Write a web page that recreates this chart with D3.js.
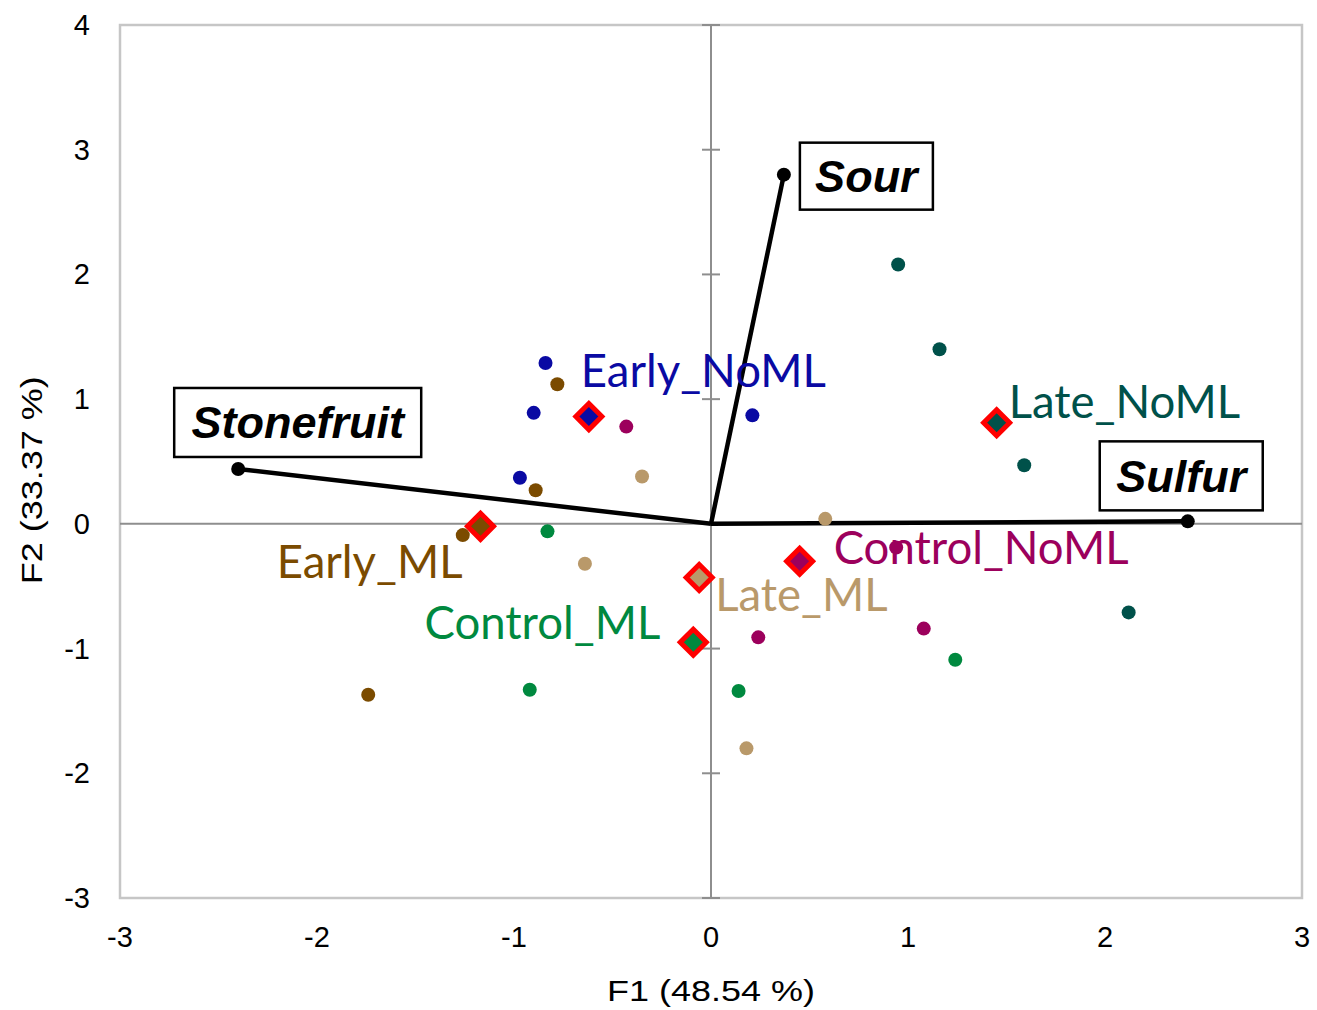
<!DOCTYPE html>
<html>
<head>
<meta charset="utf-8">
<script src="https://cdn.jsdelivr.net/npm/d3@7"></script>
<style>
  body { margin: 0; background: #fff; }
  svg { display: block; }
</style>
</head>
<body>
<div id="viz"></div>
<script>
// observations (F1, F2) per group
var groups = ["Early_NoML", "Early_ML", "Control_NoML", "Late_ML", "Control_ML", "Late_NoML"];
var groupColors = ["#0a0aa3", "#7b4b00", "#9c005c", "#b9996a", "#00893f", "#00514a"];
var obsGroup = [
  "Early_NoML", "Early_NoML", "Early_NoML", "Early_NoML",
  "Early_ML", "Early_ML", "Early_ML", "Early_ML",
  "Control_NoML", "Control_NoML", "Control_NoML", "Control_NoML",
  "Late_ML", "Late_ML", "Late_ML", "Late_ML",
  "Control_ML", "Control_ML", "Control_ML", "Control_ML",
  "Late_NoML", "Late_NoML", "Late_NoML", "Late_NoML"
];
var obsF1 = [-0.84, -0.90, -0.97, 0.21,  -0.78, -0.89, -1.26, -1.74,  -0.43, 0.94, 1.08, 0.24,
             -0.35, -0.64, 0.58, 0.18,  -0.83, -0.92, 0.14, 1.24,  0.95, 1.16, 1.59, 2.12];
var obsF2 = [1.29, 0.89, 0.37, 0.87,  1.12, 0.27, -0.09, -1.37,  0.78, -0.19, -0.84, -0.91,
             0.38, -0.32, 0.04, -1.80,  -0.06, -1.33, -1.34, -1.09,  2.08, 1.40, 0.47, -0.71];

// group centroids
var centF1 = [-0.62, -1.17, 0.45, -0.06, -0.09, 1.45];
var centF2 = [0.86, -0.02, -0.30, -0.43, -0.95, 0.81];

// variable vectors
var varNames = ["Stonefruit", "Sour", "Sulfur"];
var varF1 = [-2.40, 0.37, 2.42];
var varF2 = [0.44, 2.80, 0.02];

var xTicks = [-3, -2, -1, 0, 1, 2, 3];
var yTicks = [-3, -2, -1, 0, 1, 2, 3, 4];

var W = 1317, H = 1010;
var margin = {top: 25, right: 15, bottom: 112, left: 120};

var svg = d3.select("#viz").append("svg")
    .attr("width", W)
    .attr("height", H);

var x = d3.scaleLinear().domain([-3, 3]).range([margin.left, W - margin.right]);
var y = d3.scaleLinear().domain([-3, 4]).range([H - margin.bottom, margin.top]);

// frame
svg.append("rect")
    .attr("x", x(-3)).attr("y", y(4))
    .attr("width", x(3) - x(-3)).attr("height", y(-3) - y(4))
    .attr("fill", "none").attr("stroke", "#c6c6c6").attr("stroke-width", 2.5);

// zero axes
svg.append("line")
    .attr("x1", x(0)).attr("x2", x(0)).attr("y1", y(4)).attr("y2", y(-3))
    .attr("stroke", "#8e8e8e").attr("stroke-width", 2);
svg.append("line")
    .attr("x1", x(-3)).attr("x2", x(3)).attr("y1", y(0)).attr("y2", y(0))
    .attr("stroke", "#8e8e8e").attr("stroke-width", 2);

// small ticks on the vertical zero axis
svg.selectAll(".ytk").data(yTicks).enter().append("line")
    .attr("x1", x(0) - 9).attr("x2", x(0) + 9)
    .attr("y1", d => y(d)).attr("y2", d => y(d))
    .attr("stroke", "#8e8e8e").attr("stroke-width", 2);

// tick labels
svg.selectAll(".xl").data(xTicks).enter().append("text")
    .attr("x", d => x(d)).attr("y", y(-3) + 49)
    .attr("text-anchor", "middle")
    .attr("font-family", "Liberation Sans, Arial, sans-serif")
    .attr("font-size", 29)
    .text(d => d);
svg.selectAll(".yl").data(yTicks).enter().append("text")
    .attr("x", x(-3) - 30).attr("y", d => y(d) + 10)
    .attr("text-anchor", "end")
    .attr("font-family", "Liberation Sans, Arial, sans-serif")
    .attr("font-size", 29)
    .text(d => d);

// axis titles
svg.append("text")
    .attr("x", x(0)).attr("y", 1001)
    .attr("text-anchor", "middle")
    .attr("font-family", "Liberation Sans, Arial, sans-serif")
    .attr("font-size", 30)
    .attr("textLength", 208).attr("lengthAdjust", "spacingAndGlyphs")
    .text("F1 (48.54 %)");
svg.append("text")
    .attr("transform", "translate(42," + y(0.35) + ") rotate(-90)")
    .attr("text-anchor", "middle")
    .attr("font-family", "Liberation Sans, Arial, sans-serif")
    .attr("font-size", 30)
    .attr("textLength", 208).attr("lengthAdjust", "spacingAndGlyphs")
    .text("F2 (33.37 %)");

var color = d3.scaleOrdinal().domain(groups).range(groupColors);

// vectors
var vars = varNames.map((n, i) => ({name: n, f1: varF1[i], f2: varF2[i]}));
svg.selectAll(".vec").data(vars).enter().append("line")
    .attr("x1", x(0)).attr("y1", y(0))
    .attr("x2", d => x(d.f1)).attr("y2", d => y(d.f2))
    .attr("stroke", "#000").attr("stroke-width", 4.5);
svg.selectAll(".vecdot").data(vars).enter().append("circle")
    .attr("cx", d => x(d.f1)).attr("cy", d => y(d.f2)).attr("r", 7)
    .attr("fill", "#000");

// observation points
var obs = obsF1.map((v, i) => ({g: obsGroup[i], f1: v, f2: obsF2[i]}));
svg.selectAll(".pt").data(obs).enter().append("circle")
    .attr("cx", d => x(d.f1)).attr("cy", d => y(d.f2)).attr("r", 7)
    .attr("fill", d => color(d.g));

// centroids
var cents = groups.map((g, i) => ({g: g, f1: centF1[i], f2: centF2[i]}));
var dsz = 13;
svg.selectAll(".cent").data(cents).enter().append("path")
    .attr("transform", d => "translate(" + x(d.f1) + "," + y(d.f2) + ")")
    .attr("d", "M0," + (-dsz) + "L" + dsz + ",0L0," + dsz + "L" + (-dsz) + ",0Z")
    .attr("fill", d => color(d.g))
    .attr("stroke", "#ff0000").attr("stroke-width", 5)
    .attr("stroke-linejoin", "miter");

// group labels (offsets relative to the centroid, in px)
var labelPos = {
  "Early_NoML":   {dx: -8,  dy: -30, anchor: "start"},
  "Early_ML":     {dx: -18, dy: 52,  anchor: "end"},
  "Control_NoML": {dx: 34,  dy: 3,   anchor: "start"},
  "Late_ML":      {dx: 16,  dy: 34,  anchor: "start"},
  "Control_ML":   {dx: -33, dy: -3,  anchor: "end"},
  "Late_NoML":    {dx: 12,  dy: -5,  anchor: "start"}
};
svg.selectAll(".glab").data(cents).enter().append("text")
    .attr("x", d => x(d.f1) + labelPos[d.g].dx)
    .attr("y", d => y(d.f2) + labelPos[d.g].dy)
    .attr("text-anchor", d => labelPos[d.g].anchor)
    .attr("font-family", "Lato, 'Open Sans', sans-serif")
    .attr("font-size", 45.5)
    .attr("fill", d => color(d.g))
    .text(d => d.g);

// variable label boxes (offsets from vector tip, in px)
var boxPos = {
  "Stonefruit": {dx: -64, dy: -81, w: 247, h: 69},
  "Sour":       {dx: 16,  dy: -32, w: 133, h: 67},
  "Sulfur":     {dx: -88, dy: -80, w: 163, h: 69}
};
var box = svg.selectAll(".vbox").data(vars).enter().append("g")
    .attr("transform", d => "translate(" + (x(d.f1) + boxPos[d.name].dx) + "," + (y(d.f2) + boxPos[d.name].dy) + ")");
box.append("rect")
    .attr("width", d => boxPos[d.name].w).attr("height", d => boxPos[d.name].h)
    .attr("fill", "#fff").attr("stroke", "#000").attr("stroke-width", 2.5);
box.append("text")
    .attr("x", d => boxPos[d.name].w / 2).attr("y", d => boxPos[d.name].h / 2 + 16)
    .attr("text-anchor", "middle")
    .attr("font-family", "Liberation Sans, Arial, sans-serif")
    .attr("font-weight", "bold").attr("font-style", "italic")
    .attr("font-size", 45)
    .text(d => d.name);
</script>
</body>
</html>
